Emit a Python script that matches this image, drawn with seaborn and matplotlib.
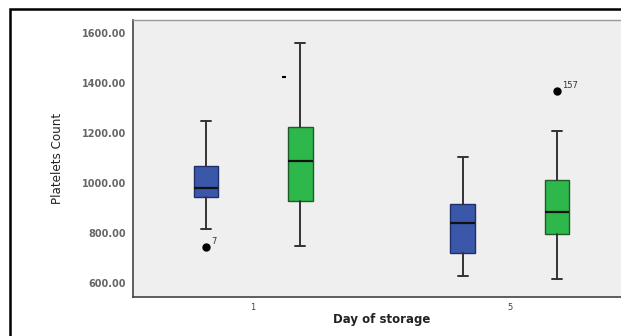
import matplotlib
matplotlib.use("Agg")
import matplotlib.pyplot as plt
import seaborn as sns
from matplotlib.patches import Rectangle

# summary statistics, one entry per box
days = ["1", "5"]
series = ["blue", "green"]
whisker_low = [816, 750, 629, 617]
q1 = [944, 929, 720, 796]
median = [980, 1089, 840, 885]
q3 = [1070, 1224, 917, 1013]
whisker_high = [1250, 1560, 1104, 1209]
outliers = [[746], [], [], [1369]]
outlier_ids = [["7"], [], [], ["157"]]
y_ticks = [600, 800, 1000, 1200, 1400, 1600]

box_colors = {"blue": "#3B57AA", "green": "#2EB84B"}
edge_colors = {"blue": "#1F2F6A", "green": "#1E5A2A"}

sns.set_style("white")

fig = plt.figure(figsize=(6.21, 3.36), dpi=100)
ax = fig.add_axes([133 / 621, 1 - 297 / 336, 497 / 621, 277 / 336])
ax.set_facecolor("#EFEFEF")

offset = 0.183
stats, positions, colors = [], [], []
i = 0
for d in range(len(days)):
    for s_idx, s in enumerate(series):
        stats.append({
            "whislo": whisker_low[i], "q1": q1[i], "med": median[i],
            "q3": q3[i], "whishi": whisker_high[i], "fliers": outliers[i],
        })
        positions.append(d + (offset if s_idx else -offset))
        colors.append(s)
        i += 1

bp = ax.bxp(
    stats, positions=positions, widths=0.097, patch_artist=True,
    showfliers=True,
    boxprops=dict(linewidth=1.0),
    medianprops=dict(color="#111111", linewidth=1.6),
    whiskerprops=dict(color="#333333", linewidth=1.4),
    capprops=dict(color="#333333", linewidth=1.4),
    flierprops=dict(marker="o", markerfacecolor="black", markeredgecolor="black",
                    markersize=5),
    capwidths=0.04,
)
for patch, c in zip(bp["boxes"], colors):
    patch.set_facecolor(box_colors[c])
    patch.set_edgecolor(edge_colors[c])

for pos, vals, ids in zip(positions, outliers, outlier_ids):
    for v, t in zip(vals, ids):
        ax.annotate(t, (pos, v), xytext=(4, 2), textcoords="offset points",
                    fontsize=6, color="#333333")

# small stray dash left of the day 1 green box
ax.plot([offset - 0.063], [1424], marker="_", color="black", markersize=3, mew=1.5)

ax.set_xlim(-0.467, 1.467)
ax.set_ylim(545, 1653)
ax.set_xticks(range(len(days)))
ax.set_xticklabels(days, fontsize=6, color="#444444")
ax.set_yticks(y_ticks)
ax.set_yticklabels([f"{v:.2f}" for v in y_ticks], fontsize=7,
                   color="#666666", fontweight="bold")
ax.tick_params(axis="y", direction="out", length=4, width=1, color="#444444", pad=1)
ax.tick_params(axis="x", direction="out", length=4, width=1, color="#444444", pad=0)
for side in ["left", "bottom"]:
    ax.spines[side].set_color("#444444")
    ax.spines[side].set_linewidth(1.2)
for side in ["top", "right"]:
    ax.spines[side].set_color("#999999")
    ax.spines[side].set_linewidth(1.0)

ax.set_ylabel("Platelets Count", fontsize=9.5, fontstretch="condensed",
              color="#222222", labelpad=13)
ax.set_xlabel("Day of storage", fontsize=8.5, fontweight="bold", color="#222222",
              labelpad=1)

# outer frame of the original figure
fig.patches.append(Rectangle((10 / 621, -0.05), 1.1, 1 - 9 / 336 + 0.05,
                             transform=fig.transFigure, fill=False,
                             edgecolor="black", linewidth=1.8))

fig.savefig("out.png", dpi=100)
